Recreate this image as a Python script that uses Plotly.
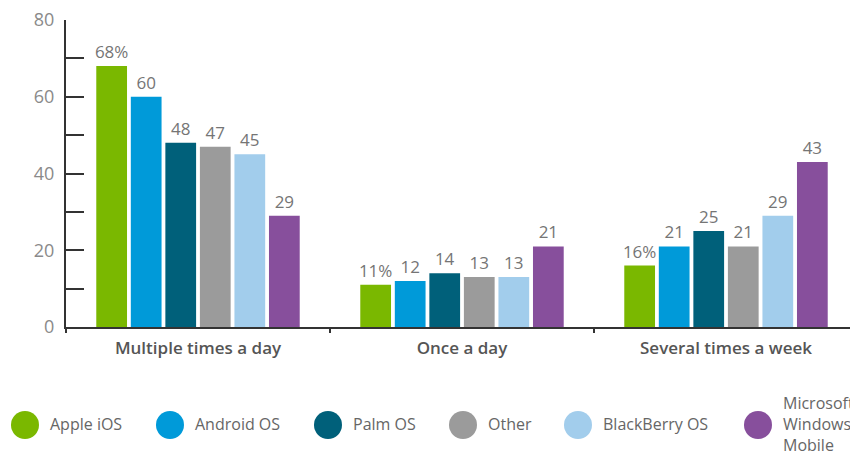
import plotly.graph_objects as go

categories = ["Multiple times a day", "Once a day", "Several times a week"]
series_names = ["Apple iOS", "Android OS", "Palm OS", "Other", "BlackBerry OS", "Microsoft<br>Windows<br>Mobile"]
apple = [68, 11, 16]
android = [60, 12, 21]
palm = [48, 14, 25]
other = [47, 13, 21]
blackberry = [45, 13, 29]
microsoft = [29, 21, 43]
series_values = [apple, android, palm, other, blackberry, microsoft]
colors = ["#7ab800", "#009ad9", "#00607a", "#9b9b9b", "#a2cdec", "#874f9c"]
y_ticks = [0, 20, 40, 60, 80]

FONT = "Open Sans"
fig = go.Figure()
for i, (name, vals, col) in enumerate(zip(series_names, series_values, colors)):
    texts = [f"{v}%" if i == 0 else str(v) for v in vals]
    fig.add_trace(go.Bar(
        x=categories, y=vals, name=name, marker=dict(color=col, line=dict(width=0)),
        text=texts, textposition="outside", constraintext="none", cliponaxis=False,
        textfont=dict(family=FONT, size=17, color="#757575"), showlegend=False,
    ))

# manual legend: circles + labels (pixel positions relative to the plot area)
PLOT_W, PLOT_H = 792, 307
legend_x = [25, 170, 328, 463, 578, 758]
for name, col, lx in zip(series_names, colors, legend_x):
    fig.add_shape(type="circle", xref="paper", yref="paper",
                  xsizemode="pixel", ysizemode="pixel",
                  xanchor=(lx - 66) / PLOT_W, yanchor=-98 / PLOT_H,
                  x0=-14, x1=14, y0=-14, y1=14,
                  fillcolor=col, line=dict(width=0))
    fig.add_annotation(xref="paper", yref="paper", x=(lx + 23 - 66) / PLOT_W, y=-97 / PLOT_H,
                       text=name, showarrow=False, xanchor="left", yanchor="middle", align="left",
                       font=dict(family=FONT, size=16, color="#666666"))

fig.update_layout(
    width=850, height=447,
    margin=dict(l=58, r=0, t=12, b=128),
    paper_bgcolor="white", plot_bgcolor="white",
    barmode="group", bargap=0.215, bargroupgap=0.11,
    font=dict(family=FONT),
)
fig.update_yaxes(range=[0, 80], tickvals=y_ticks, ticks="inside", ticklen=18, tickwidth=2,
                 tickcolor="#333333", showline=True, linecolor="#333333", linewidth=2,
                 showgrid=False, zeroline=False, ticklabelstandoff=6, ticklabeloverflow="allow",
                 tickfont=dict(family=FONT, size=18, color="#8a8a8a"),
                 minor=dict(dtick=10, ticks="inside", ticklen=18, tickwidth=2, tickcolor="#333333"))
fig.update_xaxes(showline=True, linecolor="#333333", linewidth=2, tickson="boundaries",
                 ticks="outside", ticklen=4, tickwidth=1.5, tickcolor="#333333",
                 ticklabelstandoff=5,
                 tickfont=dict(family=FONT, size=17, color="#555555", weight=600), showgrid=False)

fig.write_html("out.html")
